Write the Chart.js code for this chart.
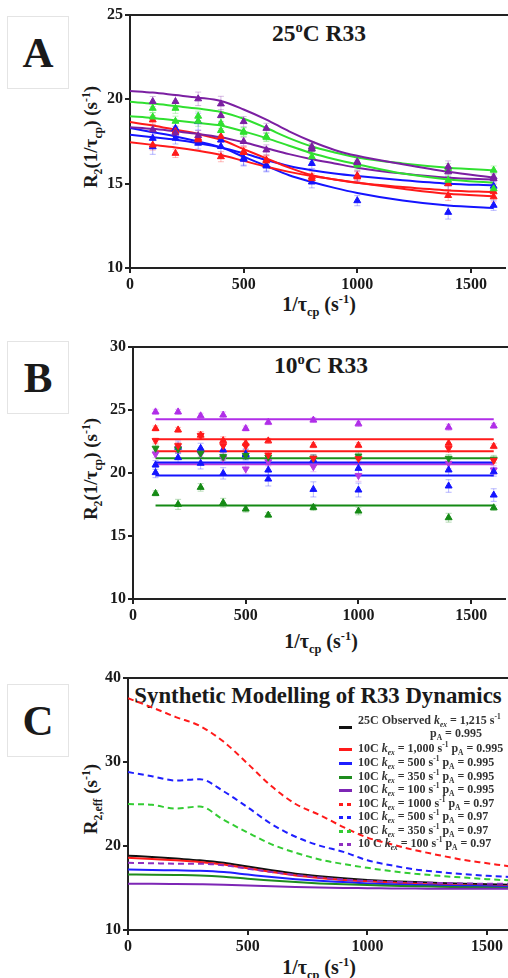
<!DOCTYPE html>
<html>
<head>
<meta charset="utf-8">
<script src="https://cdn.jsdelivr.net/npm/chart.js@4.4.1/dist/chart.umd.min.js"></script>
<style>
  html, body { margin: 0; padding: 0; background: #fff; }
  body { width: 508px; height: 978px; position: relative; overflow: hidden;
         font-family: "Liberation Serif", "DejaVu Serif", serif; color: #1a1a1a; }
  canvas { position: absolute; }
  .lbl { position: absolute; left: 7px; width: 60px; height: 71px; border: 1px solid #e4e4e4;
         display: flex; align-items: center; justify-content: center; font-weight: bold; font-size: 43px; }
  .txt { position: absolute; transform: translate(-50%, -50%); white-space: nowrap; font-weight: bold; }
  .ytl { position: absolute; transform: translate(-50%, -50%) rotate(-90deg); white-space: nowrap;
         font-weight: bold; font-size: 19px; }
  sub, sup { font-size: 0.62em; line-height: 0; }
  .leg { position: absolute; left: 358px; white-space: nowrap; font-weight: bold; font-size: 12px; color: #333; }
  .sw { position: absolute; left: 339px; width: 13px; height: 2.5px; }
</style>
</head>
<body>

<div class="lbl" style="top:16px;">A</div>
<div class="lbl" style="top:341px;">B</div>
<div class="lbl" style="top:684px;">C</div>

<div class="txt" style="left:319px; top:33px; font-size:23.5px;">25<sup>o</sup>C R33</div>
<div class="txt" style="left:321px; top:365px; font-size:23.5px;">10<sup>o</sup>C R33</div>
<div class="txt" style="left:318px; top:696px; font-size:22.8px;">Synthetic Modelling of R33 Dynamics</div>

<div class="ytl" style="left:91px; top:137px;">R<sub>2</sub>(1/τ<sub>cp</sub>) (s<sup>-1</sup>)</div>
<div class="ytl" style="left:91px; top:469px;">R<sub>2</sub>(1/τ<sub>cp</sub>) (s<sup>-1</sup>)</div>
<div class="ytl" style="left:91px; top:799px;">R<sub>2,eff</sub> (s<sup>-1</sup>)</div>

<div class="txt" style="left:319px; top:304px; font-size:20px;">1/τ<sub>cp</sub> (s<sup>-1</sup>)</div>
<div class="txt" style="left:321px; top:641px; font-size:20px;">1/τ<sub>cp</sub> (s<sup>-1</sup>)</div>
<div class="txt" style="left:319px; top:967px; font-size:20px;">1/τ<sub>cp</sub> (s<sup>-1</sup>)</div>

<canvas id="chartA" width="432" height="300" style="left:78px; top:0px;"></canvas>
<canvas id="chartB" width="429" height="300" style="left:81px; top:330px;"></canvas>
<canvas id="chartC" width="436" height="300" style="left:76px; top:660px;"></canvas>

<div id="legendC"></div>

<script>
// ---------- Panel A: 25C R33 ----------
const xPtsA = [100, 200, 300, 400, 500, 600, 800, 1000, 1400, 1600];
const xFitA = [0, 100, 200, 300, 400, 500, 600, 700, 800, 900, 1000, 1200, 1400, 1600];

const fitPurpleA1 = [20.5, 20.4, 20.25, 20.1, 19.9, 19.4, 18.8, 18.1, 17.5, 17.0, 16.65, 16.15, 15.7, 15.35];
const fitGreenA1  = [19.85, 19.75, 19.6, 19.45, 19.25, 18.85, 18.3, 17.7, 17.2, 16.85, 16.55, 16.2, 15.95, 15.8];
const fitGreenA2  = [19.0, 18.9, 18.75, 18.6, 18.45, 18.1, 17.7, 17.25, 16.8, 16.45, 16.15, 15.6, 15.25, 15.05];
const fitPurpleA2 = [18.35, 18.25, 18.1, 17.95, 17.75, 17.45, 17.1, 16.75, 16.45, 16.2, 15.95, 15.6, 15.35, 15.25];
const fitRedA1    = [18.65, 18.45, 18.2, 17.95, 17.6, 17.05, 16.5, 15.95, 15.5, 15.25, 15.05, 14.8, 14.6, 14.5];
const fitRedA2    = [17.45, 17.3, 17.15, 16.95, 16.7, 16.35, 16.0, 15.7, 15.45, 15.25, 15.05, 14.7, 14.4, 14.25];
const fitBlueA1   = [18.3, 18.05, 17.8, 17.5, 17.15, 16.6, 16.05, 15.5, 15.1, 14.75, 14.45, 14.0, 13.7, 13.55];
const fitBlueA2   = [17.9, 17.75, 17.6, 17.4, 17.15, 16.8, 16.4, 16.05, 15.8, 15.6, 15.45, 15.2, 15.0, 14.9];

const ptsPurpleA1 = [19.87, 19.87, 20.03, 19.73, 18.68, 18.28, 17.19, 16.3, 16.0, 15.3];
const ptsPurpleA2 = [18.2, 18.0, 17.85, 19.04, 17.5, 17.0, 17.05, 16.25, 15.7, 15.4];
const ptsGreenA1  = [19.47, 19.47, 19.0, 18.58, 18.08, 17.79, 17.09, 16.2, 15.9, 15.8];
const ptsGreenA2  = [18.95, 18.7, 18.7, 18.15, 18.05, 17.75, 16.6, 16.1, 15.2, 14.7];
const ptsRedA1    = [18.78, 18.1, 17.69, 17.79, 16.9, 16.4, 15.41, 15.47, 15.0, 14.52];
const ptsRedA2    = [17.29, 16.8, 17.6, 16.6, 16.85, 16.35, 15.3, 15.4, 14.3, 14.22];
const ptsBlueA1   = [17.69, 18.28, 18.68, 17.59, 16.5, 16.1, 16.2, 15.45, 15.0, 14.85];
const ptsBlueA2   = [17.19, 17.7, 17.4, 17.2, 16.45, 16.05, 15.1, 13.99, 13.3, 13.72];

const errPurpleA1 = [0.3, 0.35, 0.4, 0.45, 0.3, 0.3, 0.3, 0.3, 0.35, 0.3];
const errPurpleA2 = [0.3, 0.3, 0.3, 0.35, 0.25, 0.3, 0.3, 0.3, 0.3, 0.3];
const errGreenA1  = [0.25, 0.3, 0.3, 0.3, 0.25, 0.25, 0.3, 0.25, 0.3, 0.25];
const errGreenA2  = [0.25, 0.3, 0.3, 0.3, 0.25, 0.25, 0.3, 0.25, 0.3, 0.25];
const errRedA1    = [0.25, 0.3, 0.3, 0.35, 0.3, 0.3, 0.3, 0.3, 0.35, 0.3];
const errRedA2    = [0.3, 0.25, 0.3, 0.3, 0.3, 0.3, 0.3, 0.3, 0.3, 0.3];
const errBlueA1   = [0.35, 0.45, 0.5, 0.5, 0.4, 0.35, 0.3, 0.3, 0.4, 0.3];
const errBlueA2   = [0.45, 0.35, 0.35, 0.45, 0.4, 0.35, 0.35, 0.3, 0.4, 0.3];

// ---------- Panel B: 10C R33 ----------
const xPtsB = [100, 200, 300, 400, 500, 600, 800, 1000, 1400, 1600];
const xLineB = [100, 1600];

const lineVioletB  = [24.27, 24.27];
const lineRedB1    = [22.68, 22.68];
const lineRedB2    = [21.72, 21.72];
const lineGreenB   = [21.17, 21.17];
const lineBlueB1   = [20.84, 20.84];
const lineMagentaB = [20.7, 20.7];
const lineBlueB2   = [19.81, 19.81];
const lineDkGreenB = [17.43, 17.43];

const ptsVioletB    = [24.85, 24.85, 24.54, 24.6, 23.53, 24.03, 24.2, 23.9, 23.63, 23.74];
const ptsRedUpB     = [23.53, 23.42, 23.0, 22.57, 22.36, 22.55, 22.2, 22.2, 22.36, 22.12];
const ptsRedDnB     = [22.57, 22.17, 22.97, 22.17, 22.15, 21.43, 21.17, 21.14, 21.96, 21.0];
const ptsGreenDnB   = [21.96, 21.9, 21.57, 21.3, 21.4, 21.25, 21.17, 21.35, 21.17, 21.1];
const ptsBlueB1     = [20.64, 22.04, 21.96, 21.83, 21.43, 20.24, 21.03, 20.37, 20.24, 20.1];
const ptsBlueB2     = [20.03, 21.22, 20.77, 19.97, 21.5, 19.52, 18.7, 18.65, 18.97, 18.25];
const ptsMagentaDnB = [21.51, 21.96, 21.51, 21.17, 20.32, 20.9, 20.5, 19.79, 20.77, 20.24];
const ptsDkGreenB   = [18.38, 17.51, 18.86, 17.64, 17.14, 16.66, 17.27, 16.98, 16.45, 17.24];

const errVioletB    = [0.2, 0.2, 0.2, 0.25, 0.2, 0.2, 0.2, 0.2, 0.25, 0.2];
const errRedUpB     = [0.2, 0.2, 0.25, 0.3, 0.25, 0.2, 0.2, 0.2, 0.3, 0.2];
const errRedDnB     = [0.2, 0.25, 0.3, 0.3, 0.25, 0.25, 0.25, 0.2, 0.3, 0.2];
const errGreenDnB   = [0.25, 0.3, 0.3, 0.3, 0.3, 0.3, 0.3, 0.3, 0.3, 0.3];
const errBlueB1     = [0.35, 0.5, 0.4, 0.45, 0.4, 0.4, 0.4, 0.4, 0.45, 0.35];
const errBlueB2     = [0.4, 0.4, 0.45, 0.45, 0.4, 0.55, 0.6, 0.55, 0.5, 0.5];
const errMagentaDnB = [0.3, 0.4, 0.35, 0.35, 0.4, 0.35, 0.4, 0.45, 0.4, 0.35];
const errDkGreenB   = [0.2, 0.4, 0.3, 0.35, 0.25, 0.2, 0.25, 0.3, 0.35, 0.2];

// ---------- Panel C: synthetic modelling ----------
const xC = [0, 100, 200, 300, 400, 500, 600, 700, 800, 900, 1000, 1100, 1200, 1300, 1400, 1500, 1600];
const cObserved25  = [18.85, 18.7, 18.5, 18.3, 18.0, 17.55, 17.1, 16.7, 16.4, 16.15, 15.95, 15.8, 15.7, 15.6, 15.5, 15.45, 15.4];
const cK1000p995   = [18.6, 18.45, 18.3, 18.1, 17.8, 17.35, 16.9, 16.5, 16.2, 15.95, 15.8, 15.65, 15.5, 15.4, 15.3, 15.25, 15.2];
const cK500p995    = [17.2, 17.15, 17.1, 17.05, 16.9, 16.6, 16.3, 16.05, 15.85, 15.7, 15.55, 15.45, 15.35, 15.3, 15.25, 15.2, 15.15];
const cK350p995    = [16.6, 16.58, 16.55, 16.5, 16.35, 16.1, 15.9, 15.7, 15.55, 15.45, 15.35, 15.28, 15.2, 15.15, 15.1, 15.05, 15.0];
const cK100p995    = [15.5, 15.5, 15.48, 15.45, 15.4, 15.3, 15.2, 15.12, 15.05, 15.0, 14.98, 14.95, 14.93, 14.92, 14.9, 14.9, 14.9];
const cK1000p97    = [37.6, 36.5, 35.35, 34.3, 32.4, 29.8, 27.1, 25.0, 23.7, 22.25, 21.0, 20.2, 19.5, 18.9, 18.35, 17.95, 17.55];
const cK500p97     = [28.8, 28.3, 27.8, 27.95, 26.5, 24.6, 22.6, 21.1, 20.05, 19.3, 18.3, 17.7, 17.2, 16.9, 16.65, 16.45, 16.3];
const cK350p97     = [25.0, 24.9, 24.45, 24.7, 23.1, 21.6, 20.2, 19.2, 18.4, 17.85, 17.4, 17.0, 16.7, 16.45, 16.25, 16.05, 15.9];
const cK100p97     = [18.0, 17.95, 17.9, 17.9, 17.7, 17.3, 16.9, 16.55, 16.25, 16.0, 15.85, 15.75, 15.65, 15.6, 15.55, 15.5, 15.5];

const xTicks = [0, 500, 1000, 1500];
const yTicksA = [10, 15, 20, 25];
const yTicksB = [10, 15, 20, 25, 30];
const yTicksC = [10, 20, 30, 40];

// legend rows for C: [colour, dashed, html]
const legendC = [
    ['#111111', false, '25C Observed <i>k<sub>ex</sub></i> = 1,215 s<sup>-1</sup>'],
    ['#ff1a1a', false, '10C <i>k<sub>ex</sub></i> = 1,000 s<sup>-1</sup> p<sub>A</sub> = 0.995'],
    ['#1f1fff', false, '10C <i>k<sub>ex</sub></i> = 500 s<sup>-1</sup> p<sub>A</sub> = 0.995'],
    ['#1e8c1e', false, '10C <i>k<sub>ex</sub></i> = 350 s<sup>-1</sup> p<sub>A</sub> = 0.995'],
    ['#7d26b5', false, '10C <i>k<sub>ex</sub></i> = 100 s<sup>-1</sup> p<sub>A</sub> = 0.995'],
    ['#ff1a1a', true,  '10C <i>k<sub>ex</sub></i> = 1000 s<sup>-1</sup> p<sub>A</sub> = 0.97'],
    ['#1f1fff', true,  '10C <i>k<sub>ex</sub></i> = 500 s<sup>-1</sup> p<sub>A</sub> = 0.97'],
    ['#33cc33', true,  '10C <i>k<sub>ex</sub></i> = 350 s<sup>-1</sup> p<sub>A</sub> = 0.97'],
    ['#8f2fc0', true,  '10 C <i>k<sub>ex</sub></i> = 100 s<sup>-1</sup> p<sub>A</sub> = 0.97']
];

const FONT = '"Liberation Serif", "DejaVu Serif", serif';
const PURPLE_A = '#7b1fa2', GREEN_A = '#30e030', RED = '#ff1a1a', BLUE = '#1414ff';
const VIOLET_B = '#b02ee8', MAGENTA_B = '#b83ae0', GREEN_B = '#1d8f1d', DKGREEN_B = '#148a14';

const pts = (xs, ys) => xs.map((x, i) => ({ x: x, y: ys[i] }));

function hexA(hex, a) {
    const n = parseInt(hex.slice(1), 16);
    return `rgba(${n >> 16}, ${(n >> 8) & 255}, ${n & 255}, ${a})`;
}

const fitSet = (xs, ys, color, extra) => Object.assign({
    data: pts(xs, ys), showLine: true, borderColor: color, borderWidth: 2,
    pointRadius: 0, cubicInterpolationMode: 'monotone', order: 1
}, extra || {});

const markSet = (xs, ys, errs, color, down) => ({
    data: pts(xs, ys), showLine: false, pointStyle: 'triangle', rotation: down ? 180 : 0,
    pointRadius: 4, backgroundColor: color, borderColor: color, borderWidth: 1,
    errors: errs, errColor: hexA(color, 0.3), order: 0
});

// top frame line
const frameTop = {
    id: 'frameTop',
    afterDraw(chart) {
        const { ctx, chartArea: a } = chart;
        ctx.save();
        ctx.strokeStyle = '#222';
        ctx.lineWidth = 2;
        ctx.beginPath();
        ctx.moveTo(a.left - 1, a.top);
        ctx.lineTo(a.right + 4, a.top);
        ctx.stroke();
        ctx.restore();
    }
};

// faint error bars under the markers
const errBars = {
    id: 'errBars',
    beforeDatasetsDraw(chart) {
        const { ctx, scales: { x, y } } = chart;
        chart.data.datasets.forEach(ds => {
            if (!ds.errors) return;
            ctx.save();
            ctx.strokeStyle = ds.errColor;
            ctx.lineWidth = 1;
            ds.data.forEach((p, i) => {
                const e = ds.errors[i];
                const px = x.getPixelForValue(p.x);
                const y1 = y.getPixelForValue(p.y - e), y2 = y.getPixelForValue(p.y + e);
                ctx.beginPath();
                ctx.moveTo(px, y1); ctx.lineTo(px, y2);
                ctx.moveTo(px - 3, y1); ctx.lineTo(px + 3, y1);
                ctx.moveTo(px - 3, y2); ctx.lineTo(px + 3, y2);
                ctx.stroke();
            });
            ctx.restore();
        });
    }
};

function axis(min, max, ticks, size) {
    return {
        type: 'linear', min: min, max: max,
        border: { display: true, color: '#222', width: 2 },
        grid: { drawOnChartArea: false, drawTicks: true, tickLength: 5, color: '#222', lineWidth: 2 },
        ticks: { color: '#1a1a1a', font: { family: FONT, size: 16, weight: 'bold' }, padding: 2,
                 maxRotation: 0, autoSkip: false, callback: v => String(v) },
        afterBuildTicks: s => { s.ticks = ticks.map(v => ({ value: v })); },
        afterFit: s => { if (s.isHorizontal()) s.height = size; else s.width = size; }
    };
}

function makeChart(id, datasets, xmax, ymin, ymax, yTicks, padTop, xHeight) {
    return new Chart(document.getElementById(id), {
        type: 'scatter',
        data: { datasets: datasets },
        options: {
            responsive: false, animation: false,
            layout: { padding: { top: padTop, right: 1, left: 0, bottom: 0 } },
            plugins: { legend: { display: false }, tooltip: { enabled: false } },
            scales: {
                x: axis(0, xmax, xTicks, xHeight),
                y: axis(ymin, ymax, yTicks, 52)
            }
        },
        plugins: [frameTop, errBars]
    });
}

makeChart('chartA', [
    markSet(xPtsA, ptsPurpleA1, errPurpleA1, PURPLE_A),
    markSet(xPtsA, ptsPurpleA2, errPurpleA2, PURPLE_A),
    markSet(xPtsA, ptsGreenA1, errGreenA1, GREEN_A),
    markSet(xPtsA, ptsGreenA2, errGreenA2, GREEN_A),
    markSet(xPtsA, ptsRedA1, errRedA1, RED),
    markSet(xPtsA, ptsRedA2, errRedA2, RED),
    markSet(xPtsA, ptsBlueA1, errBlueA1, BLUE),
    markSet(xPtsA, ptsBlueA2, errBlueA2, BLUE),
    fitSet(xFitA, fitPurpleA1, PURPLE_A),
    fitSet(xFitA, fitGreenA1, GREEN_A),
    fitSet(xFitA, fitGreenA2, GREEN_A),
    fitSet(xFitA, fitPurpleA2, PURPLE_A),
    fitSet(xFitA, fitRedA1, RED),
    fitSet(xFitA, fitRedA2, RED),
    fitSet(xFitA, fitBlueA1, BLUE),
    fitSet(xFitA, fitBlueA2, BLUE)
], 1650, 10, 25, yTicksA, 15, 32);

makeChart('chartB', [
    markSet(xPtsB, ptsVioletB, errVioletB, VIOLET_B),
    markSet(xPtsB, ptsRedUpB, errRedUpB, RED),
    markSet(xPtsB, ptsRedDnB, errRedDnB, RED, true),
    markSet(xPtsB, ptsGreenDnB, errGreenDnB, GREEN_B, true),
    markSet(xPtsB, ptsBlueB1, errBlueB1, BLUE),
    markSet(xPtsB, ptsBlueB2, errBlueB2, BLUE),
    markSet(xPtsB, ptsMagentaDnB, errMagentaDnB, MAGENTA_B, true),
    markSet(xPtsB, ptsDkGreenB, errDkGreenB, DKGREEN_B),
    fitSet(xLineB, lineVioletB, VIOLET_B),
    fitSet(xLineB, lineRedB1, RED),
    fitSet(xLineB, lineRedB2, RED),
    fitSet(xLineB, lineGreenB, GREEN_B),
    fitSet(xLineB, lineBlueB1, BLUE),
    fitSet(xLineB, lineMagentaB, MAGENTA_B),
    fitSet(xLineB, lineBlueB2, BLUE),
    fitSet(xLineB, lineDkGreenB, DKGREEN_B)
], 1650, 10, 30, yTicksB, 17, 31);

const dash = { borderDash: [6, 4] };
makeChart('chartC', [
    fitSet(xC, cK100p995, legendC[4][0]),
    fitSet(xC, cK350p995, legendC[3][0]),
    fitSet(xC, cK500p995, legendC[2][0]),
    fitSet(xC, cK100p97, legendC[8][0], dash),
    fitSet(xC, cK1000p995, legendC[1][0]),
    fitSet(xC, cObserved25, legendC[0][0]),
    fitSet(xC, cK350p97, legendC[7][0], dash),
    fitSet(xC, cK500p97, legendC[6][0], dash),
    fitSet(xC, cK1000p97, legendC[5][0], dash)
], 1600, 10, 40, yTicksC, 18, 30);

// legend for panel C (html, for sub/superscripts)
const legendTops = [721, 749, 763, 777, 790, 804, 817, 831, 844];
const box = document.getElementById('legendC');
legendC.forEach((row, i) => {
    const [color, dashed, html] = row;
    const sw = document.createElement('div');
    sw.className = 'sw';
    const swY = i === 0 ? 727 : legendTops[i];
    sw.style.top = (swY - 1) + 'px';
    sw.style.background = dashed
        ? `repeating-linear-gradient(90deg, ${color} 0 4px, transparent 4px 8px)`
        : color;
    box.appendChild(sw);
    const t = document.createElement('div');
    t.className = 'leg';
    t.style.top = (legendTops[i] - 8) + 'px';
    t.innerHTML = html;
    box.appendChild(t);
});
const extra = document.createElement('div');
extra.className = 'leg';
extra.style.left = '430px';
extra.style.top = (734 - 8) + 'px';
extra.innerHTML = 'p<sub>A</sub> = 0.995';
box.appendChild(extra);
</script>
</body>
</html>
